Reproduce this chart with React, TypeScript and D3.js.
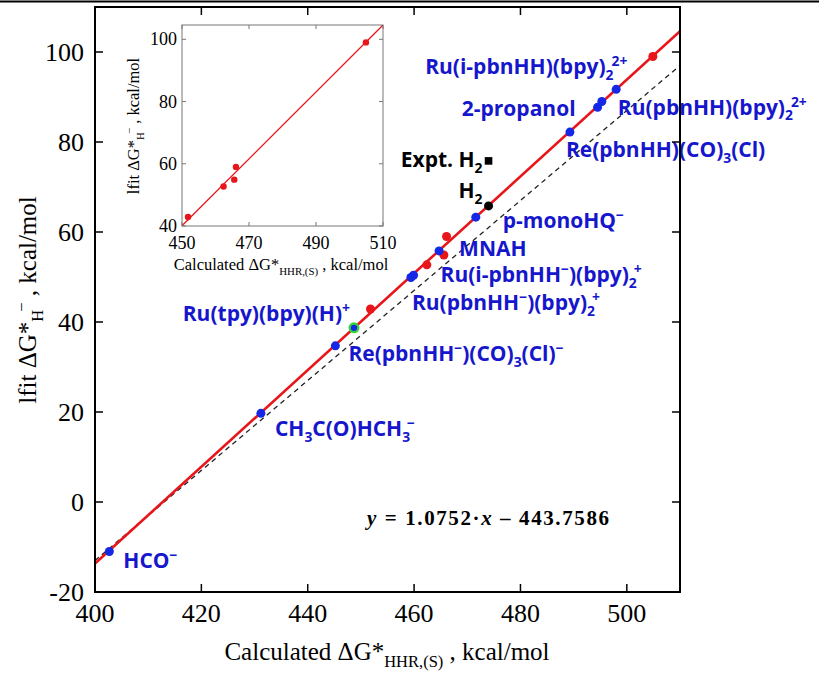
import React from "react";
import * as d3 from "d3";

// ---------------- data ----------------
const blueNames = [
  "HCO-", "CH3C(O)HCH3-", "Re(pbnHH-)(CO)3(Cl)-", "Ru(tpy)(bpy)(H)+",
  "Ru(pbnHH-)(bpy)2+", "Ru(i-pbnHH-)(bpy)2+", "MNAH", "p-monoHQ-",
  "Re(pbnHH)(CO)3(Cl)", "2-propanol", "Ru(pbnHH)(bpy)2 2+", "Ru(i-pbnHH)(bpy)2 2+",
];
const blueX = [402.7, 431.2, 445.2, 448.7, 459.4, 459.9, 464.7, 471.6, 489.3, 494.5, 495.3, 498.0];
const blueY = [-11.0, 19.7, 34.7, 38.7, 49.9, 50.4, 55.8, 63.3, 82.2, 87.7, 89.0, 91.7];

const redX = [451.8, 462.4, 465.6, 466.1, 504.9];
const redY = [42.9, 52.7, 54.9, 59.0, 99.0];

const h2X = [474.0];
const h2Y = [65.8];
const exptH2X = [474.0];
const exptH2Y = [75.8];

const fitSlope = 1.0752;
const fitIntercept = -443.7586;
const refSlope = 1.0;
const refIntercept = -413.0;

const xTicks = [400, 420, 440, 460, 480, 500];
const yTicks = [-20, 0, 20, 40, 60, 80, 100];
const insetXTicks = [450, 470, 490, 510];
const insetYTicks = [40, 60, 80, 100];

// ---------------- rich labels (text only) ----------------
type Seg = { t: string; s?: "sub" | "sup"; dx?: number };
const labelText: Seg[][] = [
  [{ t: "HCO" }, { t: "\u2212", s: "sup" }],
  [{ t: "CH" }, { t: "3", s: "sub" }, { t: "C(O)HCH" }, { t: "3", s: "sub" }, { t: "\u2212", s: "sup", dx: -3 }],
  [{ t: "Re(pbnHH" }, { t: "\u2212", s: "sup" }, { t: ")(CO)" }, { t: "3", s: "sub" }, { t: "(Cl)" }, { t: "\u2212", s: "sup" }],
  [{ t: "Ru(tpy)(bpy)(H)" }, { t: "+", s: "sup" }],
  [{ t: "Ru(pbnHH" }, { t: "\u2212", s: "sup" }, { t: ")(bpy)" }, { t: "2", s: "sub" }, { t: "+", s: "sup", dx: -3 }],
  [{ t: "Ru(i-pbnHH" }, { t: "\u2212", s: "sup" }, { t: ")(bpy)" }, { t: "2", s: "sub" }, { t: "+", s: "sup", dx: -3 }],
  [{ t: "MNAH" }],
  [{ t: "p-monoHQ" }, { t: "\u2212", s: "sup" }],
  [{ t: "Re(pbnHH)(CO)" }, { t: "3", s: "sub" }, { t: "(Cl)" }],
  [{ t: "2-propanol" }],
  [{ t: "Ru(pbnHH)(bpy)" }, { t: "2", s: "sub" }, { t: "2+", s: "sup", dx: -2 }],
  [{ t: "Ru(i-pbnHH)(bpy)" }, { t: "2", s: "sub" }, { t: "2+", s: "sup", dx: -2 }],
];
// layout: label offset (px) from its point, and anchor
const labelOffset: [number, number][] = [
  [14, 16], [14, 23], [13, 15], [-4, -7], [1, 33], [27, 7], [20, 5],
  [27, 11], [-4, 25], [-22, 9], [16, 13], [-191, -15],
];
const labelAnchor = ["start", "start", "start", "end", "start", "start", "start",
  "start", "start", "end", "start", "start"];

const SERIF = "'Liberation Serif', 'Times New Roman', serif";
const SANS = "'Open Sans', 'Noto Sans', sans-serif";

function Rich({ x, y, segs, size, fill, weight, anchor, transform, family, ls }: any) {
  let cur = 0;
  return (
    <text x={x} y={y} fontSize={size} fill={fill} fontWeight={weight} fontFamily={family}
      textAnchor={anchor} transform={transform} letterSpacing={ls}>
      {segs.map((sg: Seg, i: number) => {
        const target = sg.s === "sub" ? size * 0.28 : sg.s === "sup" ? -size * 0.38 : 0;
        const dy = target - cur;
        cur = target;
        return (
          <tspan key={i} dy={dy} dx={sg.dx || 0} fontSize={sg.s ? size * 0.66 : size}>
            {sg.t}
          </tspan>
        );
      })}
    </text>
  );
}

export default function App() {
  const W = 819, H = 679;
  const x = d3.scaleLinear().domain([400, 510]).range([95, 680]);
  const y = d3.scaleLinear().domain([-20, 110]).range([592, 7]);
  const ix = d3.scaleLinear().domain([450, 510]).range([182, 383]);
  const iy = d3.scaleLinear().domain([40, 104.6]).range([226, 25]);

  const fit = (v: number) => fitSlope * v + fitIntercept;
  const ref = (v: number) => refSlope * v + refIntercept;
  const line = d3.line<number>().x((d) => x(d)).y((d) => y(fit(d)));
  const refLine = d3.line<number>().x((d) => x(d)).y((d) => y(ref(d)));
  const iline = d3.line<number>().x((d) => ix(d)).y((d) => iy(fit(d)));

  const blue = "#1428e6";
  const blueText = "#1616cc";
  const red = "#e8161a";
  const tick = 8;
  const LS = 21;

  return (
    <svg width={W} height={H} style={{ position: "absolute", left: 0, top: 0, background: "#fff" }}>
      <defs>
        <clipPath id="mainclip">
          <rect x={95} y={7} width={585} height={585} />
        </clipPath>
        <clipPath id="insetclip">
          <rect x={182} y={25} width={201} height={201} />
        </clipPath>
      </defs>
      <rect x={0} y={0} width={W} height={H} fill="#fff" />
      <line x1={0} x2={W} y1={1.5} y2={1.5} stroke="#000" strokeWidth={2} />

      {/* lines */}
      <g clipPath="url(#mainclip)">
        <path d={refLine([400, 510]) || ""} stroke="#222" strokeWidth={1.3} strokeDasharray="5,4" fill="none" />
        <path d={line([400, 510]) || ""} stroke={red} strokeWidth={2.6} fill="none" />
      </g>

      {/* red points */}
      {redX.map((v, i) => (
        <circle key={"r" + i} cx={x(v)} cy={y(redY[i])} r={4.5} fill={red} />
      ))}
      {/* blue points */}
      {blueX.map((v, i) =>
        i === 3 ? (
          <g key={"b" + i}>
            <circle cx={x(v)} cy={y(blueY[i])} r={5.5} fill="#35d635" />
            <circle cx={x(v)} cy={y(blueY[i])} r={3.2} fill={blue} />
          </g>
        ) : (
          <circle key={"b" + i} cx={x(v)} cy={y(blueY[i])} r={4.5} fill={blue} />
        )
      )}
      {/* H2 */}
      {h2X.map((v, i) => (
        <circle key={"h" + i} cx={x(v)} cy={y(h2Y[i])} r={4.5} fill="#000" />
      ))}
      {exptH2X.map((v, i) => (
        <rect key={"e" + i} x={x(v) - 3.8} y={y(exptH2Y[i]) - 3.8} width={7.6} height={7.6} fill="#000" />
      ))}

      {/* labels */}
      {labelText.map((segs, i) => (
        <Rich key={"l" + i} x={x(blueX[i]) + labelOffset[i][0]} y={y(blueY[i]) + labelOffset[i][1]}
          segs={segs} size={LS} fill={blueText} weight={700} family={SANS} anchor={labelAnchor[i]} />
      ))}
      <Rich x={x(h2X[0]) - 30} y={y(h2Y[0]) - 8} segs={[{ t: "H" }, { t: "2", s: "sub" }]}
        size={LS} fill="#000" weight={700} family={SANS} />
      <Rich x={x(exptH2X[0]) - 6} y={y(exptH2Y[0]) + 6} anchor="end" segs={[{ t: "Expt. H" }, { t: "2", s: "sub" }]}
        size={LS} fill="#000" weight={700} family={SANS} />

      {/* equation */}
      <text x={367} y={525} fontFamily={SERIF} fontSize={21} fontWeight={700} letterSpacing={1.6}>
        <tspan fontStyle="italic">y</tspan>
        <tspan> = 1.0752·</tspan>
        <tspan fontStyle="italic">x</tspan>
        <tspan> – 443.7586</tspan>
      </text>

      {/* main frame */}
      <rect x={95} y={7} width={585} height={585} fill="none" stroke="#000" strokeWidth={2} />
      {xTicks.map((t) => (
        <g key={"xt" + t}>
          <line x1={x(t)} x2={x(t)} y1={592} y2={592 - tick} stroke="#000" strokeWidth={1.5} />
          <line x1={x(t)} x2={x(t)} y1={7} y2={7 + tick} stroke="#000" strokeWidth={1.5} />
          <text x={x(t)} y={622} fontFamily={SERIF} fontSize={26} textAnchor="middle">{t}</text>
        </g>
      ))}
      {yTicks.map((t) => (
        <g key={"yt" + t}>
          <line x1={95} x2={95 + tick} y1={y(t)} y2={y(t)} stroke="#000" strokeWidth={1.5} />
          <line x1={680} x2={680 - tick} y1={y(t)} y2={y(t)} stroke="#000" strokeWidth={1.5} />
          <text x={84} y={y(t) + 8.5} fontFamily={SERIF} fontSize={26} textAnchor="end">{t}</text>
        </g>
      ))}
      <Rich x={387} y={660} anchor="middle" family={SERIF} size={25} fill="#000"
        segs={[{ t: "Calculated \u0394G*" }, { t: "HHR,(S)", s: "sub" }, { t: " , kcal/mol" }]} />
      <Rich x={0} y={0} transform="translate(36,300) rotate(-90)" anchor="middle" family={SERIF} size={25} fill="#000"
        segs={[{ t: "lfit \u0394G*" }, { t: "H", s: "sub" }, { t: "\u2212", s: "sup", dx: -2 }, { t: " , kcal/mol" }]} />

      {/* inset */}
      <rect x={182} y={25} width={201} height={201} fill="#fff" stroke="#777" strokeWidth={1} />
      <g clipPath="url(#insetclip)">
        <path d={iline([450, 510]) || ""} stroke={red} strokeWidth={1.3} fill="none" />
      </g>
      {redX.map((v, i) => (
        <circle key={"ir" + i} cx={ix(v)} cy={iy(redY[i])} r={3.2} fill={red} />
      ))}
      {insetXTicks.map((t) => (
        <g key={"ixt" + t}>
          <line x1={ix(t)} x2={ix(t)} y1={226} y2={222} stroke="#777" />
          <line x1={ix(t)} x2={ix(t)} y1={25} y2={29} stroke="#777" />
          <text x={ix(t)} y={249} fontFamily={SERIF} fontSize={18} textAnchor="middle">{t}</text>
        </g>
      ))}
      {insetYTicks.map((t) => (
        <g key={"iyt" + t}>
          <line x1={182} x2={186} y1={iy(t)} y2={iy(t)} stroke="#777" />
          <line x1={383} x2={379} y1={iy(t)} y2={iy(t)} stroke="#777" />
          <text x={177} y={iy(t) + 6} fontFamily={SERIF} fontSize={18} textAnchor="end">{t}</text>
        </g>
      ))}
      <Rich x={281} y={270} anchor="middle" family={SERIF} size={16.5} fill="#000"
        segs={[{ t: "Calculated \u0394G*" }, { t: "HHR,(S)", s: "sub" }, { t: " , kcal/mol" }]} />
      <Rich x={0} y={0} transform="translate(139,126) rotate(-90)" anchor="middle" family={SERIF} size={16.5} fill="#000"
        segs={[{ t: "lfit \u0394G*" }, { t: "H", s: "sub" }, { t: "\u2212", s: "sup", dx: -2 }, { t: " , kcal/mol" }]} />
    </svg>
  );
}
